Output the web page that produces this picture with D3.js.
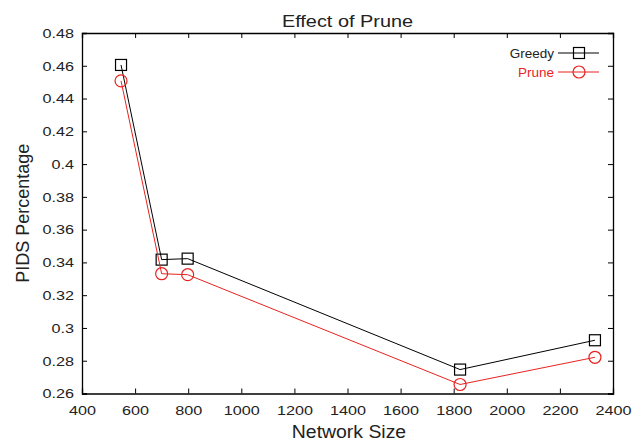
<!DOCTYPE html>
<html><head><meta charset="utf-8">
<script src="https://cdn.jsdelivr.net/npm/d3@7"></script>
<style>body{margin:0;background:#fff}text{font-family:"Liberation Sans",Arial,sans-serif}</style>
</head><body><svg id="c" width="632" height="442"></svg>
<script>
const sizes = [547, 700, 798, 1824, 2332];
const greedy = [0.4605, 0.3417, 0.3423, 0.2746, 0.2925];
const prune = [0.4508, 0.3331, 0.3325, 0.2655, 0.2821];
const xTicks = [400,600,800,1000,1200,1400,1600,1800,2000,2200,2400];
const yTicks = [0.26,0.28,0.3,0.32,0.34,0.36,0.38,0.4,0.42,0.44,0.46,0.48];

const svg = d3.select("#c");
const L=82, R=613, T=33, B=393.5;
const x = d3.scaleLinear().domain([400,2400]).range([L,R]);
const y = d3.scaleLinear().domain([0.26,0.48]).range([B,T]);
const fmt = d => String(+d.toFixed(2));
const SX = 1.2;
function stretch(sel, k){
  sel.each(function(){
    const t = d3.select(this);
    const ax = +(t.attr("x")||0);
    t.attr("transform", `translate(${ax},0) scale(${k},1) translate(${-ax},0)`);
  });
}

const gx = svg.append("g").attr("transform",`translate(0,${B})`)
  .call(d3.axisBottom(x).tickValues(xTicks).tickSize(-5).tickPadding(11.5).tickFormat(d=>d));
const gy = svg.append("g").attr("transform",`translate(${L},0)`)
  .call(d3.axisLeft(y).tickValues(yTicks).tickSize(-5).tickPadding(8).tickFormat(fmt));
const gt = svg.append("g").attr("transform",`translate(0,${T})`)
  .call(d3.axisTop(x).tickValues(xTicks).tickSize(-5).tickFormat(""));
const gr = svg.append("g").attr("transform",`translate(${R},0)`)
  .call(d3.axisRight(y).tickValues(yTicks).tickSize(-5).tickFormat(""));
[gx,gy,gt,gr].forEach(g=>{
  g.select(".domain").attr("stroke","#000").attr("stroke-width",1.3);
  g.selectAll(".tick line").attr("stroke","#000");
  g.selectAll("text").attr("font-size",13.5).attr("fill","#222").style("font-family","Liberation Sans, Arial, sans-serif");
});
stretch(gx.selectAll(".tick text"), SX);
stretch(gy.selectAll(".tick text"), SX);

const title = svg.append("text").attr("x",(L+R)/2).attr("y",27).attr("text-anchor","middle").attr("font-size",17).attr("fill","#222").text("Effect of Prune");
stretch(title, 1.17);
const xt = svg.append("text").attr("x",349).attr("y",438.5).attr("text-anchor","middle").attr("font-size",18.5).attr("fill","#222").text("Network Size");
stretch(xt, 1.05);
svg.append("text").attr("transform",`translate(29,${(T+B)/2}) rotate(-90)`).attr("text-anchor","middle").attr("font-size",18).attr("fill","#222").text("PIDS Percentage");

const series = [
  {name:"Greedy", vals:greedy, color:"#000", marker:"square"},
  {name:"Prune", vals:prune, color:"#e8231f", marker:"circle"}
];
const line = d3.line().x(d=>x(d[0])).y(d=>y(d[1]));
series.forEach((s,i)=>{
  const pts = sizes.map((v,j)=>[v,s.vals[j]]);
  svg.append("path").datum(pts).attr("d",line).attr("fill","none").attr("stroke",s.color).attr("stroke-width",1);
  drawMarkers(svg.append("g"), pts.map(p=>[x(p[0]),y(p[1])]), s);
  const ly = 53 + i*19;
  svg.append("text").attr("x",554).attr("y",ly+5).attr("text-anchor","end").attr("font-size",13.5).attr("fill",s.color==="#000"?"#222":s.color).text(s.name);
  svg.append("line").attr("x1",558).attr("x2",599).attr("y1",ly).attr("y2",ly).attr("stroke",s.color);
  drawMarkers(svg.append("g"), [[579,ly]], s);
});
function drawMarkers(g, pts, s){
  if(s.marker==="square"){
    g.selectAll("rect").data(pts).join("rect").attr("x",d=>d[0]-5.5).attr("y",d=>d[1]-5.5).attr("width",11).attr("height",11)
      .attr("fill","none").attr("stroke",s.color).attr("stroke-width",1.2);
  } else {
    g.selectAll("circle").data(pts).join("circle").attr("cx",d=>d[0]).attr("cy",d=>d[1]).attr("r",6)
      .attr("fill","none").attr("stroke",s.color).attr("stroke-width",1.2);
  }
}
</script></body></html>
